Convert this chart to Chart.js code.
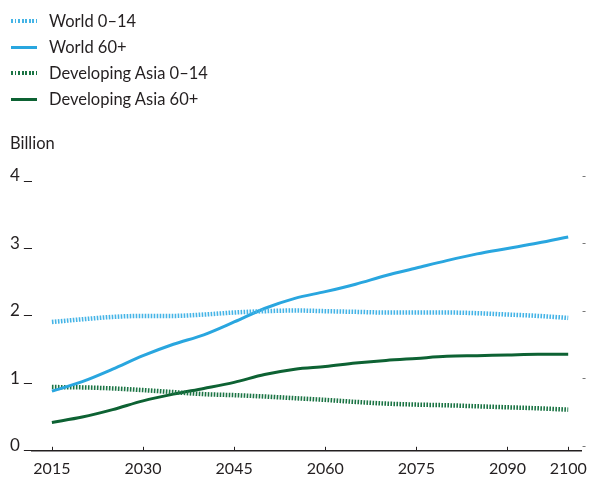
<!DOCTYPE html>
<html lang="en">

<head>
    <meta charset="UTF-8">
    <title>Population by age group</title>
    <script src="https://cdn.jsdelivr.net/npm/chart.js@4.4.1/dist/chart.umd.min.js"></script>
    <style>
        body {
            margin: 0;
            background: #fff;
            font-family: Lato, "Open Sans", sans-serif;
            color: #231f20;
        }

        .wrap {
            position: relative;
            width: 595px;
            height: 477px;
        }

        .legend {
            position: absolute;
            left: 11px;
            top: 8px;
        }

        .legend-item {
            display: flex;
            align-items: center;
            height: 26px;
            font-size: 16.5px;
        }

        .swatch {
            width: 26px;
            height: 3px;
            margin-right: 12px;
        }

        .unit {
            position: absolute;
            left: 10px;
            top: 133px;
            font-size: 16.5px;
        }
    </style>
</head>

<body>
    <div class="wrap">
        <div class="legend" id="legend"></div>
        <div class="unit">Billion</div>
        <canvas id="chart" width="595" height="477"></canvas>
    </div>

    <script>
        const years = [2015, 2020, 2025, 2030, 2035, 2040, 2045, 2050, 2055, 2060, 2065, 2070, 2075, 2080, 2085, 2090, 2095, 2100];
        const world014 = [1.91, 1.95, 1.985, 2.0, 2.0, 2.02, 2.05, 2.07, 2.08, 2.07, 2.06, 2.05, 2.05, 2.05, 2.04, 2.02, 2.0, 1.97];
        const world60 = [0.885, 1.025, 1.21, 1.41, 1.58, 1.72, 1.91, 2.11, 2.26, 2.36, 2.47, 2.6, 2.71, 2.82, 2.92, 3.0, 3.08, 3.17];
        const asia014 = [0.945, 0.94, 0.925, 0.9, 0.87, 0.84, 0.825, 0.805, 0.78, 0.755, 0.725, 0.7, 0.685, 0.675, 0.66, 0.645, 0.63, 0.61];
        const asia60 = [0.42, 0.5, 0.61, 0.74, 0.84, 0.925, 1.015, 1.13, 1.21, 1.25, 1.3, 1.34, 1.37, 1.4, 1.41, 1.42, 1.43, 1.43];
        const xTicks = [2015, 2030, 2045, 2060, 2075, 2090, 2100];
        const yTicks = [0, 1, 2, 3, 4];

        const lightBlue = '#45b4e6';
        const blue = '#29a6df';
        const darkGreen = '#1b7444';
        const green = '#0d6233';
        const ink = '#231f20';

        function pts(values) {
            return values.map((v, i) => ({ x: years[i], y: v }));
        }

        const series = [
            { label: 'World 0\u201314', data: world014, color: lightBlue, dotted: true },
            { label: 'World 60+', data: world60, color: blue, dotted: false },
            { label: 'Developing Asia 0\u201314', data: asia014, color: darkGreen, dotted: true },
            { label: 'Developing Asia 60+', data: asia60, color: green, dotted: false }
        ];

        // legend built in html so it stacks vertically like the original
        const legend = document.getElementById('legend');
        series.forEach(s => {
            const item = document.createElement('div');
            item.className = 'legend-item';
            const sw = document.createElement('span');
            sw.className = 'swatch';
            sw.style.background = s.dotted ?
                `repeating-linear-gradient(90deg, ${s.color} 0 2px, transparent 2px 3.5px)` :
                s.color;
            if (s.dotted) sw.style.height = '4px';
            item.appendChild(sw);
            item.appendChild(document.createTextNode(s.label));
            legend.appendChild(item);
        });

        // small tick marks: upward on the x axis, and short ones at the right edge
        const tickMarks = {
            id: 'tickMarks',
            afterDraw(chart) {
                const { ctx, scales: { x, y }, chartArea } = chart;
                ctx.save();
                ctx.strokeStyle = ink;
                ctx.lineWidth = 1;
                xTicks.forEach(t => {
                    const px = Math.round(x.getPixelForValue(t)) + 0.5;
                    ctx.beginPath();
                    ctx.moveTo(px, chartArea.bottom);
                    ctx.lineTo(px, chartArea.bottom - 4);
                    ctx.stroke();
                });
                ctx.strokeStyle = '#777';
                yTicks.forEach(t => {
                    const py = Math.round(y.getPixelForValue(t)) - 5 + 0.5;
                    ctx.beginPath();
                    ctx.moveTo(chartArea.right + 1, py);
                    ctx.lineTo(chartArea.right + 4, py);
                    ctx.stroke();
                });
                ctx.restore();
            }
        };

        new Chart(document.getElementById('chart'), {
            type: 'line',
            data: {
                datasets: series.map(s => ({
                    label: s.label,
                    data: pts(s.data),
                    borderColor: s.color,
                    borderWidth: s.dotted ? 4.5 : 3,
                    borderDash: s.dotted ? [1.6, 1.4] : [],
                    pointRadius: 0,
                    fill: false,
                    cubicInterpolationMode: 'monotone'
                }))
            },
            options: {
                responsive: false,
                animation: false,
                layout: {
                    padding: { top: 181, left: 6, right: 10, bottom: -9 }
                },
                plugins: {
                    legend: { display: false },
                    tooltip: { enabled: false }
                },
                scales: {
                    x: {
                        type: 'linear',
                        min: 2011.7,
                        max: 2102.2,
                        afterBuildTicks: axis => {
                            axis.ticks = xTicks.map(v => ({ value: v }));
                        },
                        grid: { display: false, drawTicks: false },
                        border: { display: true, color: ink, width: 1.5 },
                        ticks: {
                            color: ink,
                            font: { family: 'Lato', size: 16 },
                            padding: 8,
                            maxRotation: 0,
                            autoSkip: false,
                            callback: v => String(v)
                        }
                    },
                    y: {
                        min: 0,
                        max: 4,
                        afterBuildTicks: axis => {
                            axis.ticks = yTicks.map(v => ({ value: v }));
                        },
                        grid: {
                            drawOnChartArea: false,
                            drawTicks: true,
                            tickLength: 8,
                            color: ink
                        },
                        border: { display: false },
                        ticks: {
                            color: ink,
                            font: { family: 'Lato', size: 17 },
                            padding: 4,
                            labelOffset: -5
                        }
                    }
                }
            },
            plugins: [tickMarks]
        });
    </script>
</body>

</html>
